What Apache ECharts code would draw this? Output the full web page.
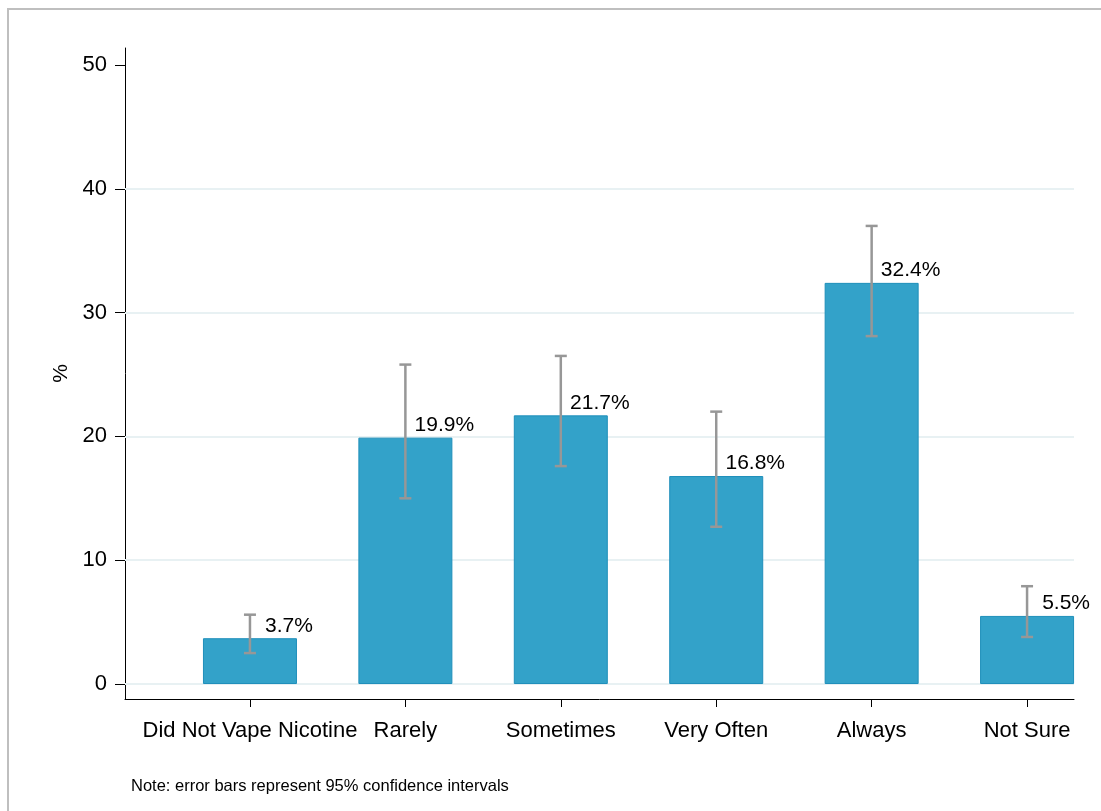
<!DOCTYPE html>
<html>
<head>
<meta charset="utf-8">
<script src="https://cdn.jsdelivr.net/npm/echarts@6/dist/echarts.min.js"></script>
<style>
html,body{margin:0;padding:0;background:#fff;}
#chart{width:1101px;height:811px;}
</style>
</head>
<body>
<div id="chart"></div>
<script>
const categories = ['Did Not Vape Nicotine', 'Rarely', 'Sometimes', 'Very Often', 'Always', 'Not Sure'];
const percents = [3.7, 19.9, 21.7, 16.8, 32.4, 5.5];
const ciLow = [2.5, 15.0, 17.6, 12.7, 28.1, 3.8];
const ciHigh = [5.6, 25.8, 26.5, 22.0, 37.0, 7.9];
const yTicks = [0, 10, 20, 30, 40, 50];
const gridLevels = [0, 10, 20, 30, 40];
const noteText = 'Note: error bars represent 95% confidence intervals';

const FONT = '"Liberation Sans", Arial, sans-serif';
const barData = percents.map((v, i) => [i, v]);
const errData = percents.map((v, i) => [i, ciLow[i], ciHigh[i]]);

const chart = echarts.init(document.getElementById('chart'), null, {renderer: 'canvas'});
chart.setOption({
  backgroundColor: '#fff',
  animation: false,
  textStyle: {fontFamily: FONT},
  grid: {left: 125, right: 27, top: 48, bottom: 112, containLabel: false},
  graphic: [
    {type: 'rect', shape: {x: 8, y: 9, width: 1300, height: 1000},
     style: {fill: 'none', stroke: '#bfbfbf', lineWidth: 2}, silent: true, z: -10},
    {type: 'text', left: 131, top: 778,
     style: {text: noteText, font: '16.5px ' + FONT, fill: '#000'}}
  ],
  xAxis: {
    type: 'value', min: -0.804, max: 5.302,
    axisLine: {show: true, onZero: false, lineStyle: {color: '#000', width: 1}},
    axisTick: {show: true, length: 8, customValues: [0,1,2,3,4,5], lineStyle: {color: '#000'}},
    axisLabel: {show: true, customValues: [0,1,2,3,4,5], margin: 21,
      formatter: v => categories[Math.round(v)] || '', color: '#000', fontSize: 22, fontFamily: FONT},
    splitLine: {show: false}
  },
  yAxis: {
    type: 'value', min: -1.21, max: 51.37,
    name: '%', nameLocation: 'middle', nameGap: 52, nameRotate: 90,
    nameTextStyle: {color: '#000', fontSize: 21, fontFamily: FONT},
    axisLine: {show: true, onZero: false, lineStyle: {color: '#000', width: 1}},
    axisTick: {show: true, length: 10, customValues: yTicks, lineStyle: {color: '#000'}},
    axisLabel: {show: true, customValues: yTicks, margin: 18, color: '#000', fontSize: 22, fontFamily: FONT},
    splitLine: {show: false}
  },
  series: [
    {
      type: 'line', data: [], z: 1, silent: true,
      markLine: {
        z: 1, silent: true, symbol: 'none', label: {show: false},
        lineStyle: {color: '#e8f1f3', width: 2, type: 'solid'},
        data: gridLevels.map(v => ({yAxis: v}))
      }
    },
    {
      type: 'bar', data: barData, barWidth: 94,
      itemStyle: {color: '#33a2c9', borderColor: '#1f8fba', borderWidth: 1},
      label: {show: true, position: 'top', distance: 0, offset: [39, -2],
        formatter: p => p.value[1].toFixed(1) + '%', color: '#000', fontSize: 21, fontFamily: FONT},
      z: 3
    },
    {
      type: 'custom', data: errData, z: 4,
      renderItem: function (params, api) {
        const x = api.value(0);
        const lo = api.coord([x, api.value(1)]);
        const hi = api.coord([x, api.value(2)]);
        const cap = 6;
        const st = {stroke: '#979797', lineWidth: 2.5};
        return {type: 'group', children: [
          {type: 'line', shape: {x1: lo[0], y1: lo[1], x2: hi[0], y2: hi[1]}, style: st},
          {type: 'line', shape: {x1: lo[0]-cap, y1: lo[1], x2: lo[0]+cap, y2: lo[1]}, style: st},
          {type: 'line', shape: {x1: hi[0]-cap, y1: hi[1], x2: hi[0]+cap, y2: hi[1]}, style: st}
        ]};
      }
    }
  ]
});
</script>
</body>
</html>
